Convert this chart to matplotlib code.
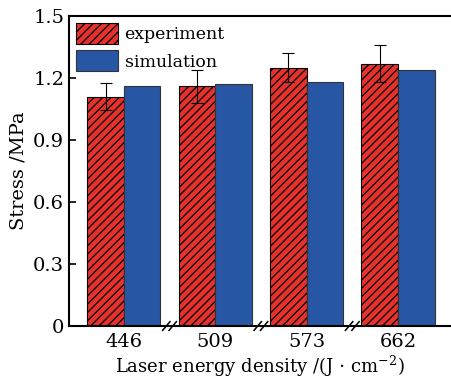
import numpy as np
import matplotlib
matplotlib.use("Agg")
import matplotlib.pyplot as plt
import matplotlib.transforms as mtransforms

plt.rcParams['font.family'] = 'DejaVu Serif'
plt.rcParams['mathtext.fontset'] = 'dejavuserif'
plt.rcParams['hatch.linewidth'] = 0.9

# data
densities = ['446', '509', '573', '662']
experiment = [1.11, 1.16, 1.25, 1.27]
exp_err = [0.065, 0.08, 0.07, 0.09]
simulation = [1.16, 1.17, 1.18, 1.24]
yticks = [0, 0.3, 0.6, 0.9, 1.2, 1.5]
ytick_labels = ['0', '0.3', '0.6', '0.9', '1.2', '1.5']

red = '#e5322d'
blue = '#2756a4'

fig = plt.figure(figsize=(4.51, 3.82), dpi=100)
ax = fig.add_axes([69 / 451, 56 / 382, 382 / 451, 310 / 382])

x = np.arange(len(densities))
w = 0.40
ax.bar(x - w / 2, experiment, w, color=red, edgecolor='black', hatch='////',
       linewidth=0.8, label='experiment')
ax.errorbar(x - w / 2, experiment, yerr=exp_err, fmt='none', ecolor='black',
            elinewidth=0.8, capsize=4, capthick=0.8)
ax.bar(x + w / 2, simulation, w, color=blue, edgecolor='#333333',
       linewidth=0.8, label='simulation')

ax.set_xlim(-0.60, 3.58)
ax.set_ylim(0, 1.5)
ax.set_yticks(yticks)
ax.set_yticklabels(ytick_labels)
ax.set_xticks(x)
ax.set_xticklabels(densities)
ax.tick_params(axis='y', direction='in', length=5, width=1.2, labelsize=14)
ax.tick_params(axis='x', length=0, labelsize=14, pad=5)
for s in ax.spines.values():
    s.set_linewidth(1.5)
ax.spines['right'].set_visible(False)

# axis break marks between groups
trans = mtransforms.blended_transform_factory(ax.transData, ax.transAxes)
for xb in [0.5, 1.5, 2.5]:
    for dx in [-0.035, 0.035]:
        ax.plot([xb + dx - 0.04, xb + dx + 0.04], [-0.014, 0.014], color='black',
                lw=1.1, transform=trans, clip_on=False)

ax.set_ylabel('Stress /MPa', fontsize=14, labelpad=4)
ax.set_xlabel(r'Laser energy density /(J $\cdot$ cm$^{-2}$)', fontsize=13, labelpad=2)

ax.legend(loc='upper left', frameon=False, fontsize=12.5, handlelength=2.4,
          handleheight=1.5, handletextpad=0.4, labelspacing=0.35,
          borderaxespad=0.2, borderpad=0.2)

fig.savefig('out.png', dpi=100)
